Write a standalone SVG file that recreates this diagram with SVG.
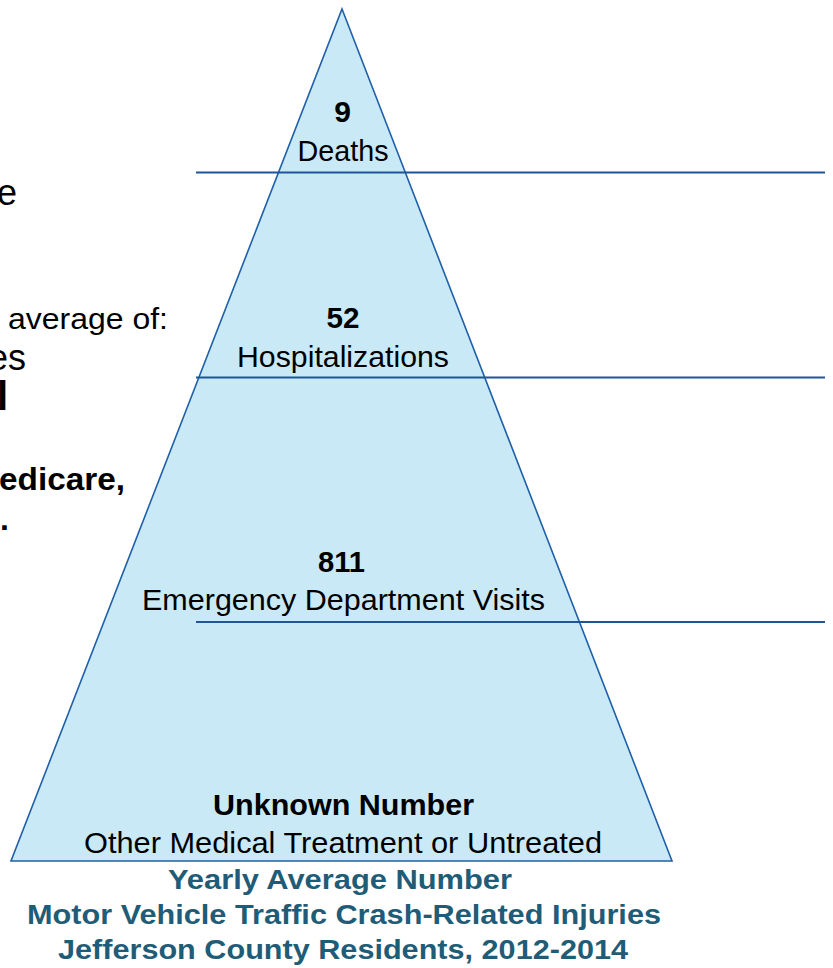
<svg xmlns="http://www.w3.org/2000/svg" width="833" height="968" viewBox="0 0 833 968">
<style>
  .t{font-family:"Liberation Sans",Arial,sans-serif;font-size:30px;fill:#000;}
  .c{text-anchor:middle;}
  .b{font-weight:bold;}
  .ttl{font-family:"Liberation Sans",Arial,sans-serif;font-size:27px;font-weight:bold;fill:#1F5C77;text-anchor:middle;}
  .div{stroke:#1F5496;stroke-width:2;fill:none;}
</style>
<rect width="833" height="968" fill="#fff"/>
<g id="left-text">
  <text class="t" x="-3" y="205" style="font-size:36px">e</text>
  <text class="t" x="8" y="329" textLength="160" lengthAdjust="spacingAndGlyphs">average of:</text>
  <text class="t" x="-12" y="370" style="font-size:36px">es</text>
  <text class="t b" x="-3" y="410" style="font-size:40px">l</text>
  <text class="t b" x="-1" y="490" style="font-size:32px" textLength="126" lengthAdjust="spacingAndGlyphs">edicare,</text>
  <text class="t b" x="0" y="530" style="font-size:32px">.</text>
</g>
<g id="pyramid">
  <polygon points="342,9 672,861 11,861" fill="#C9E9F6" stroke="#2060A8" stroke-width="1.6" stroke-linejoin="miter"/>
</g>
<g id="connectors">
  <line class="div" x1="196" y1="172.5" x2="825" y2="172.5"/>
  <line class="div" x1="196" y1="377.5" x2="825" y2="377.5"/>
  <line class="div" x1="196" y1="622" x2="825" y2="622"/>
</g>
<g id="tier-deaths">
  <text class="t c b" x="342.5" y="122">9</text>
  <text class="t c" x="343" y="161" textLength="91" lengthAdjust="spacingAndGlyphs">Deaths</text>
</g>
<g id="tier-hospitalizations">
  <text class="t c b" x="343" y="327.5" textLength="33" lengthAdjust="spacingAndGlyphs">52</text>
  <text class="t c" x="343" y="366.5" textLength="212" lengthAdjust="spacingAndGlyphs">Hospitalizations</text>
</g>
<g id="tier-ed">
  <text class="t c b" x="341.5" y="571.5" textLength="47" lengthAdjust="spacingAndGlyphs">811</text>
  <text class="t c" x="343.5" y="610" textLength="403" lengthAdjust="spacingAndGlyphs">Emergency Department Visits</text>
</g>
<g id="tier-unknown">
  <text class="t c b" x="343.5" y="815" textLength="261" lengthAdjust="spacingAndGlyphs">Unknown Number</text>
  <text class="t c" x="343" y="853" textLength="518" lengthAdjust="spacingAndGlyphs">Other Medical Treatment or Untreated</text>
</g>
<g id="title">
  <text class="ttl" x="340" y="889" textLength="344" lengthAdjust="spacingAndGlyphs">Yearly Average Number</text>
  <text class="ttl" x="344" y="924" textLength="634" lengthAdjust="spacingAndGlyphs">Motor Vehicle Traffic Crash-Related Injuries</text>
  <text class="ttl" x="343" y="959" textLength="570" lengthAdjust="spacingAndGlyphs">Jefferson County Residents, 2012-2014</text>
</g>
</svg>
